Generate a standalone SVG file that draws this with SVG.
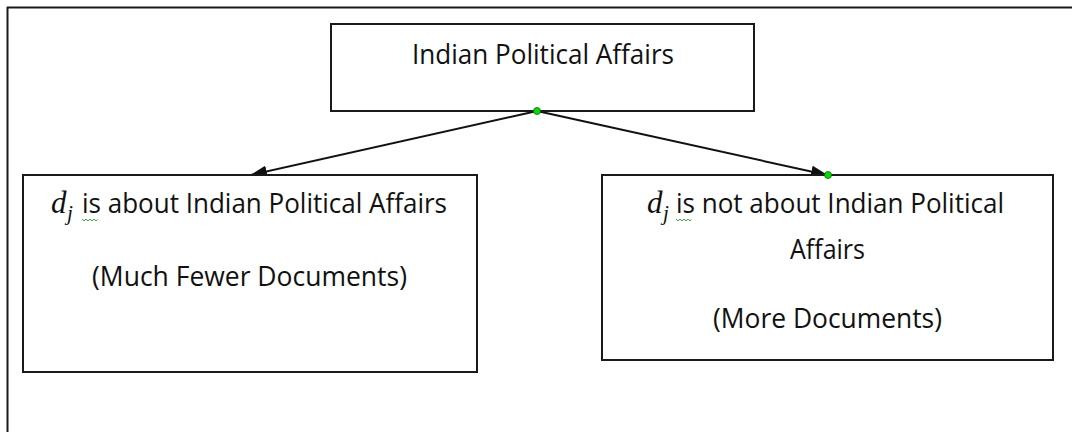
<svg xmlns="http://www.w3.org/2000/svg" width="1072" height="432" viewBox="0 0 1072 432">
<style>
.box{fill:#fff;stroke:#1a1a1a;stroke-width:2}
.t{font-family:"Open Sans","Noto Sans",sans-serif;font-size:27px;fill:#111;text-anchor:start}
.m{font-family:"Liberation Serif",serif;font-style:italic;fill:#111}
.conn{stroke:#111;stroke-width:2;fill:none}
.dot{fill:#00e000;stroke:#1a5a1a;stroke-width:0.8}
.sq{fill:none;stroke:#3cb043;stroke-width:1}
</style>
<defs>
<marker id="ah" viewBox="0 0 17 12" refX="16" refY="6" markerWidth="17" markerHeight="12" markerUnits="userSpaceOnUse" orient="auto">
<path d="M0,0 L17,6 L0,12 z" fill="#111"/>
</marker>
</defs>
<rect width="1072" height="432" fill="#fff"/>
<g id="frame">
<line x1="7" y1="7.5" x2="1072" y2="7.5" stroke="#1a1a1a" stroke-width="2"/>
<line x1="7.5" y1="7" x2="7.5" y2="432" stroke="#1a1a1a" stroke-width="2"/>
</g>
<g id="connectors">
<line class="conn" x1="537" y1="111" x2="251" y2="175" marker-end="url(#ah)"/>
<line class="conn" x1="537" y1="111" x2="827" y2="175" marker-end="url(#ah)"/>
</g>
<g id="root">
<rect class="box" x="331" y="24" width="423" height="87"/>
<text class="t" x="412" y="64" textLength="262" lengthAdjust="spacingAndGlyphs">Indian Political Affairs</text>
</g>
<g id="left">
<rect class="box" x="23" y="175" width="454" height="197"/>
<text class="m" x="51" y="213" font-size="31">d</text>
<text class="m" x="67" y="220" font-size="21">j</text>
<text class="t" x="82" y="213" textLength="365" lengthAdjust="spacingAndGlyphs">is about Indian Political Affairs</text>
<path class="sq" d="M82,219 l2,2 l2,-2 l2,2 l2,-2 l2,2 l2,-2 l2,2 l1.5,-1.5"/>
<text class="t" x="92" y="286" textLength="315" lengthAdjust="spacingAndGlyphs">(Much Fewer Documents)</text>
</g>
<g id="right">
<rect class="box" x="602" y="175" width="451" height="185"/>
<text class="m" x="647" y="213" font-size="31">d</text>
<text class="m" x="663" y="220" font-size="21">j</text>
<text class="t" x="676" y="213" textLength="328" lengthAdjust="spacingAndGlyphs">is not about Indian Political</text>
<path class="sq" d="M676,219 l2,2 l2,-2 l2,2 l2,-2 l2,2 l2,-2 l2,2 l1.5,-1.5"/>
<text class="t" x="790" y="259" textLength="75" lengthAdjust="spacingAndGlyphs">Affairs</text>
<text class="t" x="713" y="328" textLength="229" lengthAdjust="spacingAndGlyphs">(More Documents)</text>
</g>
<g id="handles">
<circle class="dot" cx="537" cy="111" r="3.5"/>
<circle class="dot" cx="828" cy="175" r="3.5"/>
</g>
</svg>
